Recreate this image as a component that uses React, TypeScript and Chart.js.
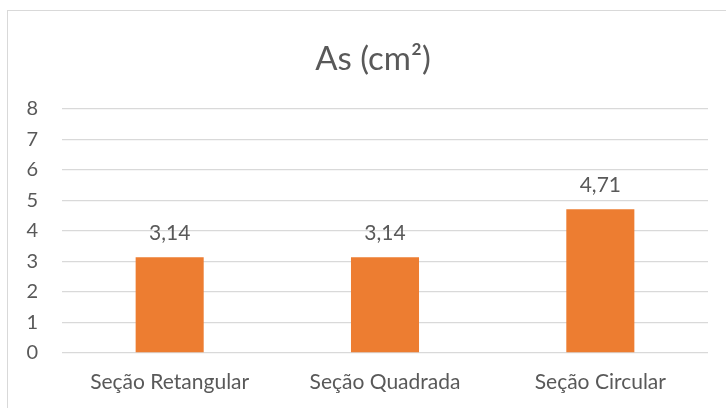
import React, { useEffect, useRef } from "react";
import { Chart, registerables } from "chart.js";

Chart.register(...registerables);

const categories = ["Seção Retangular", "Seção Quadrada", "Seção Circular"];
const values = [3.14, 3.14, 4.71];
const valueLabels = ["3,14", "3,14", "4,71"];
const yTicks = [0, 1, 2, 3, 4, 5, 6, 7, 8];
const title = "As (cm²)";

const FONT = "Lato, 'Open Sans', sans-serif";
const TEXT = "#595959";

const labelPlugin = {
  id: "valueLabels",
  afterDatasetsDraw(chart: any) {
    const ctx = chart.ctx;
    const meta = chart.getDatasetMeta(0);
    ctx.save();
    ctx.font = `21px ${FONT}`;
    ctx.fillStyle = TEXT;
    ctx.textAlign = "center";
    ctx.textBaseline = "middle";
    meta.data.forEach((bar: any, i: number) => {
      ctx.fillText(valueLabels[i], bar.x, bar.y - 24);
    });
    // title
    ctx.font = `33px ${FONT}`;
    const area = chart.chartArea;
    ctx.fillText(title, (area.left + area.right) / 2 - 12, 59);
    ctx.restore();
  },
};

export default function App() {
  const ref = useRef<HTMLCanvasElement>(null);
  useEffect(() => {
    if (!ref.current) return;
    const chart = new Chart(ref.current, {
      type: "bar",
      data: {
        labels: categories,
        datasets: [
          {
            data: values,
            backgroundColor: "#ED7D31",
            barPercentage: 0.316,
            categoryPercentage: 1,
          },
        ],
      },
      options: {
        animation: false,
        responsive: false,
        layout: { padding: { left: 10, right: 18, top: 109, bottom: 0 } },
        plugins: {
          legend: { display: false },
          tooltip: { enabled: false },
          title: { display: false },
        },
        scales: {
          x: {
            grid: { display: false, drawTicks: false },
            border: { display: false },
            ticks: { color: TEXT, font: { family: FONT, size: 21 }, padding: 17 },
            afterFit: (s: any) => {
              s.height = 55;
            },
          },
          y: {
            min: 0,
            max: 8,
            afterBuildTicks: (s: any) => {
              s.ticks = yTicks.map((v) => ({ value: v }));
            },
            grid: { color: "#D9D9D9", lineWidth: 1.3, drawTicks: false },
            border: { display: false },
            ticks: { color: TEXT, font: { family: FONT, size: 20 }, padding: 24 },
            afterFit: (s: any) => {
              s.width = 52;
            },
          },
        },
      },
      plugins: [labelPlugin],
    });
    return () => chart.destroy();
  }, []);
  return (
    <div
      style={{
        position: "fixed",
        left: 0,
        top: 0,
        width: 726,
        height: 408,
        overflow: "hidden",
        background: "#fff",
      }}
    >
      <div
        style={{
          position: "absolute",
          left: 7,
          top: 10,
          width: 760,
          height: 440,
          border: "1.5px solid #D9D9D9",
        }}
      />
      <canvas
        ref={ref}
        width={726}
        height={408}
        style={{ position: "absolute", left: 0, top: 0 }}
      />
    </div>
  );
}
